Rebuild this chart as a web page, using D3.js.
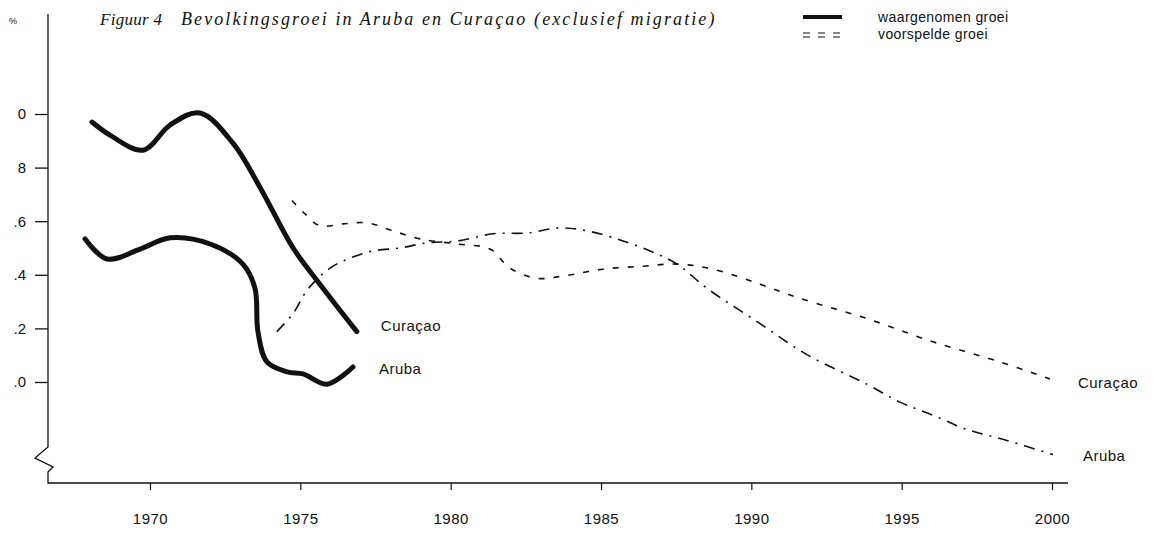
<!DOCTYPE html>
<html>
<head>
<meta charset="utf-8">
<script src="https://cdn.jsdelivr.net/npm/d3@7"></script>
<style>
  html, body { margin: 0; padding: 0; background: #fff; }
  svg { display: block; }
  text { font-family: "Liberation Sans", Arial, sans-serif; fill: #111; }
</style>
</head>
<body>
<svg id="chart" width="1155" height="538"></svg>
<script>
// ---- data ----
const titleParts = ["Figuur 4", "Bevolkingsgroei in Aruba en Curaçao (exclusief migratie)"];
const legendLabels = ["waargenomen groei", "voorspelde groei"];
const xTickValues = [1970, 1975, 1980, 1985, 1990, 1995, 2000];
const yTickValues = [2.0, 1.8, 1.6, 1.4, 1.2, 1.0];
const yTickLabels = ["0", "8", ".6", ".4", ".2", ".0"];

const curacaoObsYears = [1968.07, 1968.67, 1969.77, 1970.67, 1971.66, 1972.76, 1973.66, 1974.76, 1975.65, 1976.88];
const curacaoObsValues = [1.970, 1.921, 1.865, 1.959, 2.004, 1.891, 1.726, 1.500, 1.365, 1.188];

const arubaObsYears = [1967.84, 1968.57, 1969.67, 1970.67, 1972.00, 1973.09, 1973.49, 1973.59, 1973.89, 1974.56, 1975.09, 1975.89, 1976.75];
const arubaObsValues = [1.534, 1.459, 1.496, 1.538, 1.515, 1.440, 1.350, 1.188, 1.075, 1.038, 1.030, 0.992, 1.056];

const curacaoPredYears = [1974.72, 1975.15, 1975.65, 1976.42, 1977.22, 1978.08, 1978.98, 1980.21, 1981.31, 1981.97, 1982.87, 1983.73, 1985.06, 1986.39, 1987.53, 1988.72, 1990.29, 1991.62, 1993.84, 1996.04, 1998.27, 1999.93];
const curacaoPredValues = [1.677, 1.628, 1.583, 1.590, 1.594, 1.564, 1.534, 1.515, 1.496, 1.425, 1.387, 1.395, 1.421, 1.432, 1.440, 1.421, 1.365, 1.312, 1.237, 1.150, 1.075, 1.011];

const arubaPredYears = [1974.22, 1974.76, 1975.25, 1975.99, 1976.65, 1977.42, 1978.31, 1979.21, 1980.21, 1981.41, 1982.54, 1983.63, 1984.53, 1985.53, 1986.63, 1987.53, 1988.52, 1990.29, 1991.85, 1993.84, 1994.94, 1996.04, 1997.17, 1998.50, 2000.03];
const arubaPredValues = [1.188, 1.256, 1.346, 1.425, 1.462, 1.489, 1.500, 1.519, 1.526, 1.553, 1.556, 1.575, 1.564, 1.534, 1.489, 1.440, 1.350, 1.218, 1.102, 0.992, 0.925, 0.876, 0.823, 0.782, 0.729];

const seriesNames = ["Curaçao", "Aruba"];

// ---- scales ----
const svg = d3.select("#chart");
const axisX0 = 48, axisX1 = 1068, axisY = 483, axisTop = 14;
const x = d3.scaleLinear().domain([1970, 2000]).range([150, 1052]);
const y = d3.scaleLinear().domain([1.0, 2.0]).range([382, 114]);

const zip = (xs, vs) => xs.map((d, i) => [d, vs[i]]);
const line = d3.line().x(d => x(d[0])).y(d => y(d[1])).curve(d3.curveCatmullRom.alpha(0.5));
const sans = "'Liberation Sans', Arial, sans-serif";

// ---- y axis with break ----
const yAxisPath = d3.path();
yAxisPath.moveTo(axisX0, axisTop);
yAxisPath.lineTo(axisX0, 447);
yAxisPath.lineTo(35, 458);
yAxisPath.lineTo(53, 467);
yAxisPath.lineTo(48, 472);
yAxisPath.lineTo(axisX0, axisY);
yAxisPath.lineTo(axisX1, axisY);
svg.append("path").attr("d", yAxisPath.toString())
  .attr("fill", "none").attr("stroke", "#111").attr("stroke-width", 1.3);

const yAxis = d3.axisLeft(y).tickValues(yTickValues).tickSize(13)
  .tickFormat((d, i) => yTickLabels[i]);
const gy = svg.append("g").attr("transform", `translate(${axisX0},0)`).call(yAxis);
gy.select(".domain").remove();
gy.selectAll(".tick line").attr("stroke", "#111").attr("stroke-width", 1.3);
gy.selectAll(".tick text").attr("x", -22).attr("font-size", 15)
  .style("font-family", sans).attr("fill", "#111");

// ---- x axis ----
const xAxis = d3.axisBottom(x).tickValues(xTickValues).tickSize(7).tickFormat(d3.format("d"));
const gx = svg.append("g").attr("transform", `translate(0,${axisY})`).call(xAxis);
gx.select(".domain").remove();
gx.selectAll(".tick line").attr("stroke", "#111").attr("stroke-width", 1.2);
gx.selectAll(".tick text").attr("y", 30).attr("font-size", 15)
  .style("font-family", sans).style("letter-spacing", "0.5px").attr("fill", "#111");

// ---- unit mark & title ----
svg.append("text").attr("x", 9).attr("y", 24).attr("font-size", 9).attr("fill", "#777").text("%");
const serifStyle = (sel, size, spacing) => sel
  .style("font-family", "'Liberation Serif', 'Times New Roman', serif")
  .style("font-style", "italic").attr("font-size", size).style("letter-spacing", spacing + "px");
svg.append("text").attr("x", 100).attr("y", 25).call(serifStyle, 17, 0.3).text(titleParts[0]);
svg.append("text").attr("x", 181).attr("y", 25).call(serifStyle, 18, 2.1).text(titleParts[1]);

// ---- legend ----
svg.append("line").attr("x1", 803).attr("x2", 842).attr("y1", 17).attr("y2", 17)
  .attr("stroke", "#111").attr("stroke-width", 4);
svg.append("line").attr("x1", 803).attr("x2", 842).attr("y1", 33).attr("y2", 33)
  .attr("stroke", "#111").attr("stroke-width", 1.2).attr("stroke-dasharray", "7,8");
svg.append("line").attr("x1", 803).attr("x2", 842).attr("y1", 37).attr("y2", 37)
  .attr("stroke", "#111").attr("stroke-width", 1.2).attr("stroke-dasharray", "7,8");
legendLabels.forEach((t, i) => {
  svg.append("text").attr("x", 878).attr("y", 22 + i * 17).attr("font-size", 14)
    .style("letter-spacing", "0.4px").text(t);
});

// ---- series ----
const obsC = zip(curacaoObsYears, curacaoObsValues);
const obsA = zip(arubaObsYears, arubaObsValues);
const predC = zip(curacaoPredYears, curacaoPredValues);
const predA = zip(arubaPredYears, arubaPredValues);

svg.append("path").datum(predC).attr("d", line).attr("fill", "none")
  .attr("stroke", "#111").attr("stroke-width", 1.6).attr("stroke-dasharray", "6,9");
svg.append("path").datum(predA).attr("d", line).attr("fill", "none")
  .attr("stroke", "#111").attr("stroke-width", 1.6).attr("stroke-dasharray", "11,7,2,7");
svg.append("path").datum(obsC).attr("d", line).attr("fill", "none")
  .attr("stroke", "#111").attr("stroke-width", 5).attr("stroke-linecap", "round");
svg.append("path").datum(obsA).attr("d", line).attr("fill", "none")
  .attr("stroke", "#111").attr("stroke-width", 5).attr("stroke-linecap", "round");

// ---- series labels ----
const lbl = (sel) => sel.attr("font-size", 15).style("letter-spacing", "0.5px").attr("dy", "0.35em");
const lastC = obsC[obsC.length - 1], lastA = obsA[obsA.length - 1];
svg.append("text").attr("x", x(lastC[0]) + 24).attr("y", y(lastC[1]) - 6).call(lbl).text(seriesNames[0]);
svg.append("text").attr("x", x(lastA[0]) + 26).attr("y", y(lastA[1]) + 2).call(lbl).text(seriesNames[1]);
const endC = predC[predC.length - 1], endA = predA[predA.length - 1];
svg.append("text").attr("x", x(endC[0]) + 28).attr("y", y(endC[1]) + 4).call(lbl).text(seriesNames[0]);
svg.append("text").attr("x", x(endA[0]) + 30).attr("y", y(endA[1]) + 1).call(lbl).text(seriesNames[1]);
</script>
</body>
</html>
